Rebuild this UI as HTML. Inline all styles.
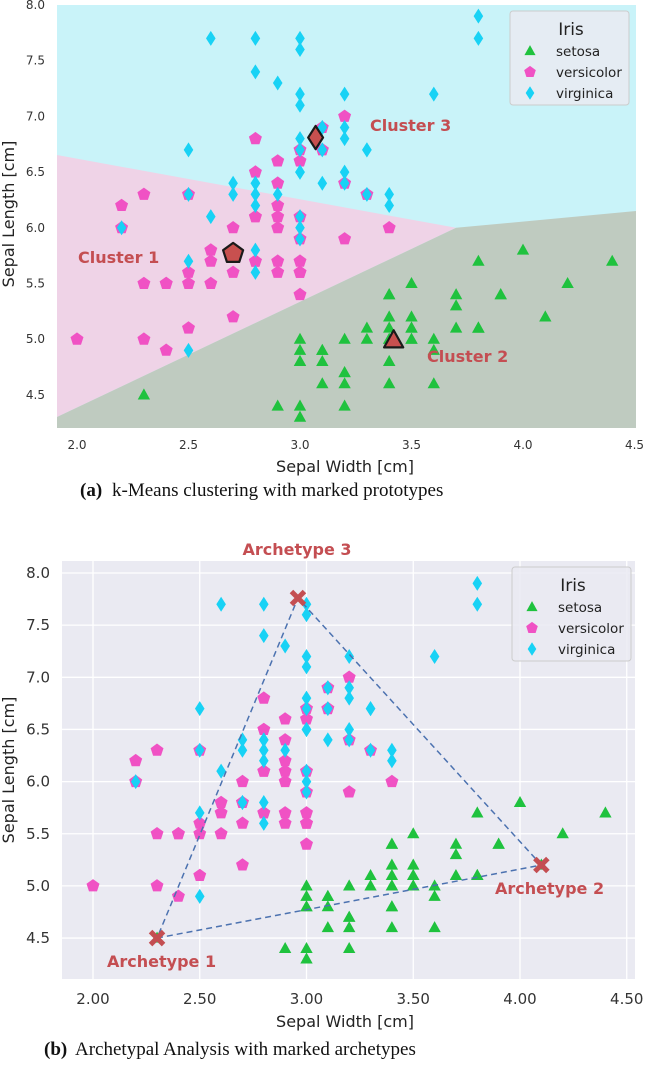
<!DOCTYPE html>
<html><head><meta charset="utf-8"><style>
body{margin:0;background:#fff;}
svg{display:block;font-family:"DejaVu Sans","Liberation Sans",sans-serif;}
</style></head><body>
<svg id="s" width="646" height="1069" xmlns="http://www.w3.org/2000/svg"></svg>
<script>
const setosa=[[5.1,3.5],[4.9,3.0],[4.7,3.2],[4.6,3.1],[5.0,3.6],[5.4,3.9],[4.6,3.4],[5.0,3.4],[4.4,2.9],[4.9,3.1],[5.4,3.7],[4.8,3.4],[4.8,3.0],[4.3,3.0],[5.8,4.0],[5.7,4.4],[5.4,3.9],[5.1,3.5],[5.7,3.8],[5.1,3.8],[5.4,3.4],[5.1,3.7],[4.6,3.6],[5.1,3.3],[4.8,3.4],[5.0,3.0],[5.0,3.4],[5.2,3.5],[5.2,3.4],[4.7,3.2],[4.8,3.1],[5.4,3.4],[5.2,4.1],[5.5,4.2],[4.9,3.1],[5.0,3.2],[5.5,3.5],[4.9,3.6],[4.4,3.0],[5.1,3.4],[5.0,3.5],[4.5,2.3],[4.4,3.2],[5.0,3.5],[5.1,3.8],[4.8,3.0],[5.1,3.8],[4.6,3.2],[5.3,3.7],[5.0,3.3]];
const versicolor=[[7.0,3.2],[6.4,3.2],[6.9,3.1],[5.5,2.3],[6.5,2.8],[5.7,2.8],[6.3,3.3],[4.9,2.4],[6.6,2.9],[5.2,2.7],[5.0,2.0],[5.9,3.0],[6.0,2.2],[6.1,2.9],[5.6,2.9],[6.7,3.1],[5.6,3.0],[5.8,2.7],[6.2,2.2],[5.6,2.5],[5.9,3.2],[6.1,2.8],[6.3,2.5],[6.1,2.8],[6.4,2.9],[6.6,3.0],[6.8,2.8],[6.7,3.0],[6.0,2.9],[5.7,2.6],[5.5,2.4],[5.5,2.4],[5.8,2.7],[6.0,2.7],[5.4,3.0],[6.0,3.4],[6.7,3.1],[6.3,2.3],[5.6,3.0],[5.5,2.5],[5.5,2.6],[6.1,3.0],[5.8,2.6],[5.0,2.3],[5.6,2.7],[5.7,3.0],[5.7,2.9],[6.2,2.9],[5.1,2.5],[5.7,2.8]];
const virginica=[[6.3,3.3],[5.8,2.7],[7.1,3.0],[6.3,2.9],[6.5,3.0],[7.6,3.0],[4.9,2.5],[7.3,2.9],[6.7,2.5],[7.2,3.6],[6.5,3.2],[6.4,2.7],[6.8,3.0],[5.7,2.5],[5.8,2.8],[6.4,3.2],[6.5,3.0],[7.7,3.8],[7.7,2.6],[6.0,2.2],[6.9,3.2],[5.6,2.8],[7.7,2.8],[6.3,2.7],[6.7,3.3],[7.2,3.2],[6.2,2.8],[6.1,3.0],[6.4,2.8],[7.2,3.0],[7.4,2.8],[7.9,3.8],[6.4,2.8],[6.3,2.8],[6.1,2.6],[7.7,3.0],[6.3,3.4],[6.4,3.1],[6.0,3.0],[6.9,3.1],[6.7,3.1],[6.9,3.1],[5.8,2.7],[6.8,3.2],[6.7,3.3],[6.7,3.0],[6.3,2.5],[6.5,3.0],[6.2,3.4],[5.9,3.0]];
const prototypes=[[2.7,5.77,'pent','Cluster 1'],[3.42,4.99,'tri','Cluster 2'],[3.07,6.81,'dia','Cluster 3']];
const archetypes=[[2.3,4.5,'Archetype 1'],[4.1,5.2,'Archetype 2'],[2.96,7.76,'Archetype 3']];
const topXTicks=['2.0','2.5','3.0','3.5','4.0','4.5'];
const topYTicks=['4.5','5.0','5.5','6.0','6.5','7.0','7.5','8.0'];
const botXTicks=['2.00','2.50','3.00','3.50','4.00','4.50'];
const botYTicks=['4.5','5.0','5.5','6.0','6.5','7.0','7.5','8.0'];

const NS='http://www.w3.org/2000/svg';
const S=document.getElementById('s');
function el(t,a,p){const e=document.createElementNS(NS,t);for(const k in a)e.setAttribute(k,a[k]);(p||S).appendChild(e);return e;}
const COL={tri:'#1fc23e',pent:'#f052c4',dia:'#18d2f5'};
function marker(kind,x,y,g,fill,stroke,sc){sc=sc||1;let e;
 if(kind==='tri'){const r=6.5*sc;e=el('polygon',{points:`${x},${y-r} ${x+r*0.95},${y+r*0.7} ${x-r*0.95},${y+r*0.7}`},g);}
 else if(kind==='pent'){const r=6.8*sc;let p=[];for(let i=0;i<5;i++){const a=-Math.PI/2+i*2*Math.PI/5;p.push((x+r*Math.cos(a)).toFixed(1)+','+(y+r*Math.sin(a)).toFixed(1));}e=el('polygon',{points:p.join(' ')},g);}
 else {const w=4.8*sc,h=7.5*sc;e=el('polygon',{points:`${x},${y-h} ${x+w},${y} ${x},${y+h} ${x-w},${y}`},g);}
 e.setAttribute('fill',fill||COL[kind]);if(stroke){e.setAttribute('stroke',stroke);e.setAttribute('stroke-width',2.2);e.setAttribute('stroke-linejoin','round');}
 return e;}
function txt(s,x,y,a,p){const e=el('text',a,p);e.setAttribute('x',x);e.setAttribute('y',y);e.textContent=s;return e;}

// ===== TOP =====
const tx=v=>77+(v-2)*223, ty=v=>5+(8-v)*111.4;
const gT=el('g',{});

const L=57,R=636,T=5,B=428;
let r=el('rect',{x:L,y:T,width:R-L,height:B-T,fill:'#c9f3f9'},gT);

let p=el('polygon',{points:`${L},155 ${tx(3.7)},${ty(6.0)} ${L},417`,fill:'#efd3e7'},gT);

p=el('polygon',{points:`${L},417 ${tx(3.7)},${ty(6.0)} ${R},211 ${R},${B} ${L},${B}`,fill:'#bfcbc0'},gT);

[[setosa,'tri'],[versicolor,'pent'],[virginica,'dia']].forEach(([d,k])=>d.forEach(([sl,sw])=>{const m=marker(k,tx(sw),ty(sl),gT);

}));
prototypes.forEach(([sw,sl,k,lab])=>{const m=marker(k,tx(sw),ty(sl),gT,'#c8504f','#1a1a1a',1.55);

});
txt('Cluster 1',78,263,{fill:'#c44e52','font-weight':'bold','font-size':'16'},gT);
txt('Cluster 3',370,131,{fill:'#c44e52','font-weight':'bold','font-size':'16'},gT);
txt('Cluster 2',427,362,{fill:'#c44e52','font-weight':'bold','font-size':'16'},gT);
topXTicks.forEach(t=>{const e=txt(t,tx(+t),449,{'font-size':'12','fill':'#333','text-anchor':'middle'},gT);

});
topYTicks.forEach(t=>{const e=txt(t,45,ty(+t)+4,{'font-size':'12','fill':'#333','text-anchor':'end'},gT);

});
txt('Sepal Width [cm]',345,472,{'font-size':'16','fill':'#222','text-anchor':'middle',},gT);
txt('Sepal Length [cm]',0,0,{'font-size':'16','fill':'#222','text-anchor':'middle','transform':'translate(14,214) rotate(-90)',},gT);
function legend(x,y,g){const lg=el('g',{},g);
 el('rect',{x:x,y:y,width:119,height:94,rx:3,fill:'#eaeaf2','fill-opacity':'0.85',stroke:'#cccccc'},lg);
 txt('Iris',x+61,y+24,{'font-size':'17','fill':'#222','text-anchor':'middle'},lg);
 [['tri','setosa'],['pent','versicolor'],['dia','virginica']].forEach(([k,n],i)=>{marker(k,x+20,y+40+i*21,lg,null,null,0.9);
 txt(n,x+46,y+45+i*21,{'font-size':'13.5','fill':'#222',},lg);});}
legend(510,11,gT);
txt('(a)',80,496,{'font-family':'Liberation Serif,serif','font-size':'19','font-weight':'bold','fill':'#111',},S);
txt('k-Means clustering with marked prototypes',112,496,{'font-family':'Liberation Serif,serif','font-size':'19','fill':'#111'},S);

// ===== BOTTOM =====
const bx=v=>93+(v-2)*213.5, by=v=>573+(8-v)*104.3;
const gB=el('g',{});
el('rect',{x:62,y:561,width:573,height:418,fill:'#eaeaf2'},gB);
botXTicks.forEach(t=>{el('line',{x1:bx(+t),x2:bx(+t),y1:561,y2:979,stroke:'#fff','stroke-width':1.3},gB);
const e=txt(t,bx(+t),1004,{'font-size':'15','fill':'#333','text-anchor':'middle'},gB);

});
botYTicks.forEach(t=>{el('line',{x1:62,x2:635,y1:by(+t),y2:by(+t),stroke:'#fff','stroke-width':1.3},gB);
const e=txt(t,50,by(+t)+5,{'font-size':'15','fill':'#333','text-anchor':'end'},gB);

});
[[setosa,'tri'],[versicolor,'pent'],[virginica,'dia']].forEach(([d,k])=>d.forEach(([sl,sw])=>{const m=marker(k,bx(sw),by(sl),gB);

}));
const pts=archetypes.map(a=>`${bx(a[0])},${by(a[1])}`).join(' ');
el('polygon',{points:pts,fill:'none',stroke:'#4c72b0','stroke-width':1.5,'stroke-dasharray':'6,4',},gB);
archetypes.forEach(([sw,sl,lab])=>{const x=bx(sw),y=by(sl),d=6.5;
const g=el('g',{},gB);


el('path',{d:`M${x-d},${y-d}L${x+d},${y+d}M${x+d},${y-d}L${x-d},${y+d}`,stroke:'#c44e52','stroke-width':5},g);});
txt('Archetype 3',297,555,{fill:'#c44e52','font-weight':'bold','font-size':'16','text-anchor':'middle',},gB);
txt('Archetype 2',495,894,{fill:'#c44e52','font-weight':'bold','font-size':'16',},gB);
txt('Archetype 1',107,967,{fill:'#c44e52','font-weight':'bold','font-size':'16',},gB);
txt('Sepal Width [cm]',345,1027,{'font-size':'16','fill':'#222','text-anchor':'middle',},gB);
txt('Sepal Length [cm]',0,0,{'font-size':'16','fill':'#222','text-anchor':'middle','transform':'translate(14,770) rotate(-90)',},gB);
legend(512,567,gB);
txt('(b)',44,1055,{'font-family':'Liberation Serif,serif','font-size':'19','font-weight':'bold','fill':'#111',},S);
txt('Archetypal Analysis with marked archetypes',75,1055,{'font-family':'Liberation Serif,serif','font-size':'19','fill':'#111'},S);
</script>
</body></html>
